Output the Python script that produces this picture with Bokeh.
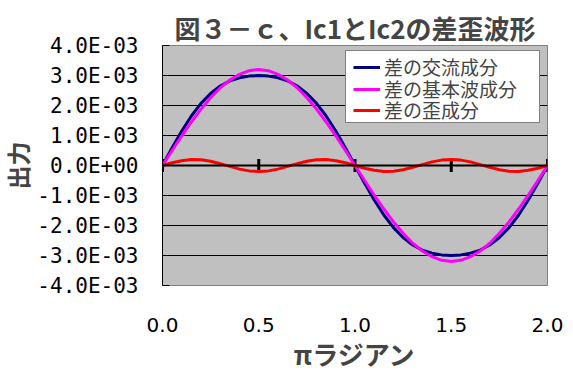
from bokeh.plotting import figure
from bokeh.models import (ColumnDataSource, Legend, LegendItem, FixedTicker, Span)
from bokeh.embed import file_html
from bokeh.resources import INLINE

# ---- data (x in units of pi radians, y values in units of 1e-3) ----
x_vals = [0.00, 0.05, 0.10, 0.15, 0.20, 0.25, 0.30, 0.35, 0.40, 0.45,
          0.50, 0.55, 0.60, 0.65, 0.70, 0.75, 0.80, 0.85, 0.90, 0.95,
          1.00, 1.05, 1.10, 1.15, 1.20, 1.25, 1.30, 1.35, 1.40, 1.45,
          1.50, 1.55, 1.60, 1.65, 1.70, 1.75, 1.80, 1.85, 1.90, 1.95, 2.00]

ac_component = [0.00, 0.59, 1.15, 1.65, 2.07, 2.40, 2.65, 2.82, 2.92, 2.98,
                3.00, 2.98, 2.92, 2.82, 2.65, 2.40, 2.07, 1.65, 1.15, 0.59,
                0.00, -0.59, -1.15, -1.65, -2.07, -2.40, -2.65, -2.82, -2.92, -2.98,
                -3.00, -2.98, -2.92, -2.82, -2.65, -2.40, -2.07, -1.65, -1.15, -0.59, 0.00]

fundamental = [0.00, 0.50, 0.99, 1.45, 1.88, 2.26, 2.59, 2.85, 3.04, 3.16,
               3.20, 3.16, 3.04, 2.85, 2.59, 2.26, 1.88, 1.45, 0.99, 0.50,
               0.00, -0.50, -0.99, -1.45, -1.88, -2.26, -2.59, -2.85, -3.04, -3.16,
               -3.20, -3.16, -3.04, -2.85, -2.59, -2.26, -1.88, -1.45, -0.99, -0.50, 0.00]

distortion = [0.00, 0.09, 0.16, 0.20, 0.19, 0.14, 0.06, -0.03, -0.12, -0.18,
              -0.20, -0.18, -0.12, -0.03, 0.06, 0.14, 0.19, 0.20, 0.16, 0.09,
              0.00, -0.09, -0.16, -0.20, -0.19, -0.14, -0.06, 0.03, 0.12, 0.18,
              0.20, 0.18, 0.12, 0.03, -0.06, -0.14, -0.19, -0.20, -0.16, -0.09, 0.00]

series_names = ["差の交流成分", "差の基本波成分", "差の歪成分"]

x_ticks = [0.0, 0.5, 1.0, 1.5, 2.0]
x_tick_labels = ["0.0", "0.5", "1.0", "1.5", "2.0"]
y_ticks = [-4e-3, -3e-3, -2e-3, -1e-3, 0.0, 1e-3, 2e-3, 3e-3, 4e-3]
y_tick_labels = ["-4.0E-03", "-3.0E-03", "-2.0E-03", "-1.0E-03", "0.0E+00",
                 "1.0E-03", "2.0E-03", "3.0E-03", "4.0E-03"]
grid_ticks = [-3e-3, -2e-3, -1e-3, 1e-3, 2e-3, 3e-3]

title_text = "図３－ｃ、Ic1とIc2の差歪波形"
x_label = "πラジアン"
y_label = "出力"

UNIT = 1e-3
src = ColumnDataSource(dict(
    x=x_vals,
    ac=[v * UNIT for v in ac_component],
    fund=[v * UNIT for v in fundamental],
    dist=[v * UNIT for v in distortion],
))

JP = "Noto Sans CJK JP"
JP_TIGHT = "Liberation Sans, Noto Sans CJK JP"
NUM = "DejaVu Sans"
MONO = "DejaVu Sans Mono"

p = figure(width=573, height=383, output_backend="svg", toolbar_location=None,
           x_range=(0, 2), y_range=(-4e-3, 4e-3),
           min_border_left=162, min_border_right=26, min_border_top=45, min_border_bottom=98,
           background_fill_color="#C0C0C0", border_fill_color="white")

p.title.text = title_text
p.title.text_font = JP
p.title.text_font_size = "26px"
p.title.text_font_style = "bold"
p.title.align = "center"
p.title.standoff = 0

p.outline_line_color = "#808080"
p.outline_line_width = 1

# x axis
xa = p.xaxis[0]
xa.ticker = FixedTicker(ticks=x_ticks)
xa.major_label_overrides = dict(zip(x_ticks, x_tick_labels))
xa.axis_line_color = None
xa.major_tick_line_color = None
xa.minor_tick_line_color = None
xa.major_label_standoff = 26
xa.major_label_text_font = NUM
xa.major_label_text_font_size = "20px"
xa.major_label_text_color = "black"
xa.axis_label = x_label
xa.axis_label_text_font = JP
xa.axis_label_text_font_size = "26px"
xa.axis_label_text_font_style = "bold"
xa.axis_label_standoff = 0

# y axis
ya = p.yaxis[0]
ya.ticker = FixedTicker(ticks=y_ticks)
ya.major_label_overrides = dict(zip(y_ticks, y_tick_labels))
ya.axis_line_color = "black"
ya.major_tick_line_color = "black"
ya.major_tick_in = 7
ya.major_tick_out = 0
ya.minor_tick_line_color = None
ya.major_label_standoff = 24
ya.major_label_text_font = MONO
ya.major_label_text_font_size = "21px"
ya.major_label_text_color = "black"
ya.axis_label = y_label
ya.axis_label_text_font = JP_TIGHT
ya.axis_label_text_font_size = "24px"
ya.axis_label_text_font_style = "bold"
ya.axis_label_standoff = 1

p.xgrid.visible = False
p.ygrid.ticker = FixedTicker(ticks=grid_ticks)
p.ygrid.grid_line_color = "black"
p.ygrid.grid_line_width = 1
p.ygrid.grid_line_alpha = 1

# zero line with tick marks
p.add_layout(Span(location=0, dimension="width", line_color="black", line_width=2))
p.segment(x0=x_ticks, y0=[-0.22e-3] * len(x_ticks), x1=x_ticks, y1=[0.22e-3] * len(x_ticks),
          line_color="black", line_width=3)

r1 = p.line("x", "ac", source=src, line_color="#000080", line_width=3)
r2 = p.line("x", "fund", source=src, line_color="#FF00FF", line_width=3)
r3 = p.line("x", "dist", source=src, line_color="#FF0000", line_width=3)

# legend frame (white box with black border), drawn first
dummy = p.line(x=[], y=[], line_alpha=0)
box = Legend(items=[LegendItem(label=" ", renderers=[dummy])],
             location=(183, 162), margin=0, padding=0, spacing=0,
             glyph_width=1, glyph_height=71, label_height=71, label_width=192,
             label_standoff=0, label_text_font_size="10px",
             border_line_color="black", border_line_width=1,
             background_fill_color="white", background_fill_alpha=1)
p.add_layout(box)

# one legend row per series, placed inside the frame box
row_offsets = [205, 183, 162]
for name, rend, yoff in zip(series_names, [r1, r2, r3], row_offsets):
    lg = Legend(items=[LegendItem(label=name, renderers=[rend])],
                location=(191, yoff), margin=0, padding=0, spacing=0,
                glyph_width=27, glyph_height=20, label_height=20, label_width=150,
                label_standoff=4,
                label_text_font=JP_TIGHT, label_text_font_size="19px",
                border_line_color=None, background_fill_alpha=0)
    p.add_layout(lg)

open("out.html", "w").write(file_html(p, INLINE))
